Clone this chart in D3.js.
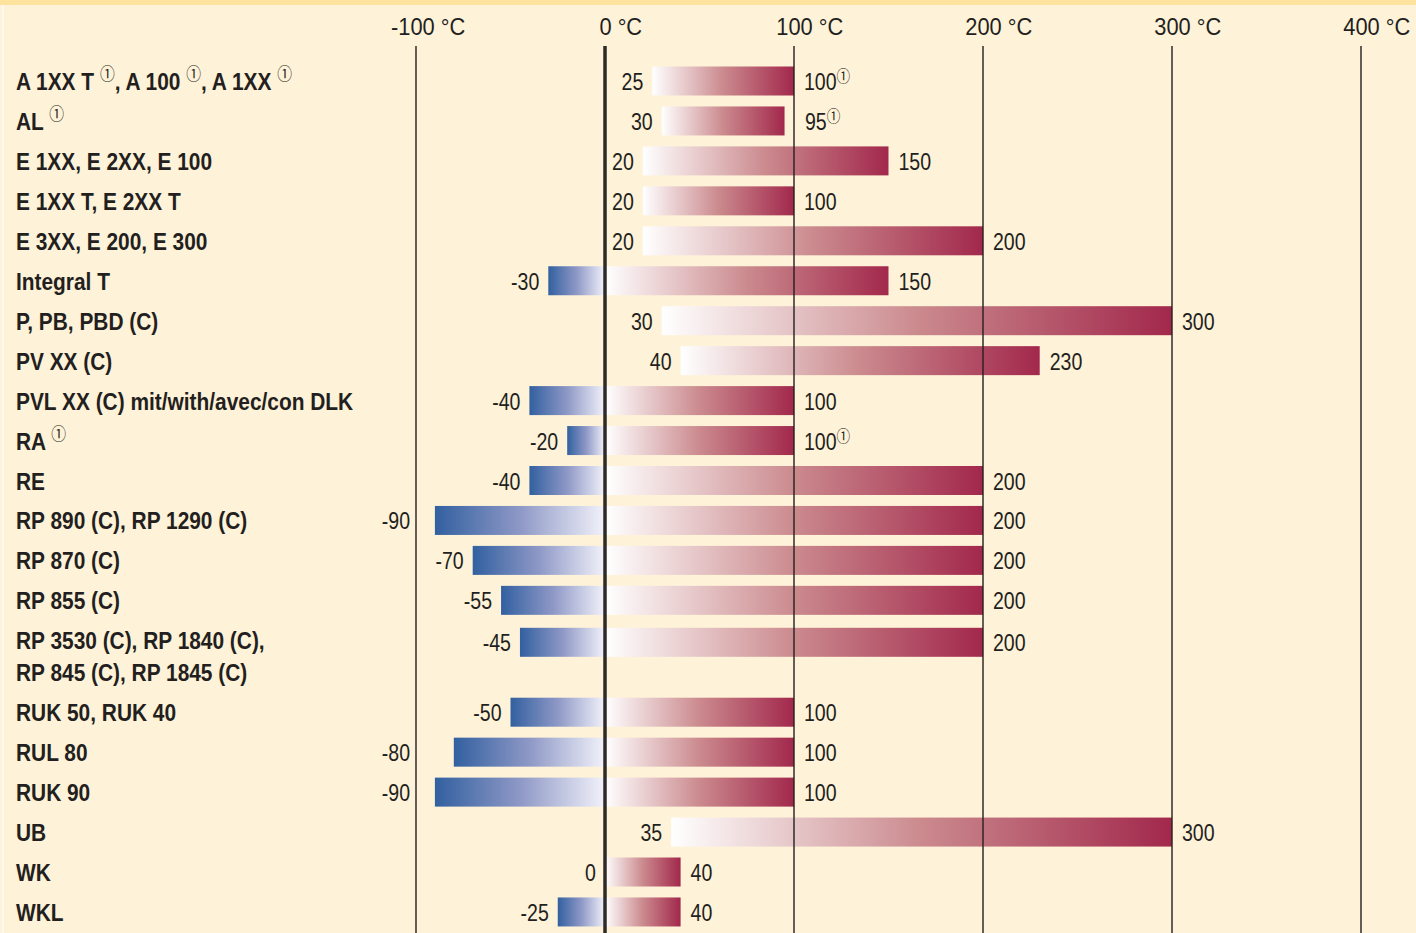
<!DOCTYPE html>
<html>
<head>
<meta charset="utf-8">
<script src="https://cdn.jsdelivr.net/npm/d3@7/dist/d3.min.js"></script>
<style>
  html, body { margin: 0; padding: 0; background: #fef2d8; }
  svg { display: block; }
  text { font-family: 'Liberation Sans', Arial, sans-serif; }
</style>
</head>
<body>
<svg id="chart" width="1416" height="933"></svg>
<script>
// ---------- data ----------
const categories = [
  "A 1XX T ①, A 100 ①, A 1XX ①",
  "AL ①",
  "E 1XX, E 2XX, E 100",
  "E 1XX T, E 2XX T",
  "E 3XX, E 200, E 300",
  "Integral T",
  "P, PB, PBD (C)",
  "PV XX (C)",
  "PVL XX (C) mit/with/avec/con DLK",
  "RA ①",
  "RE",
  "RP 890 (C), RP 1290 (C)",
  "RP 870 (C)",
  "RP 855 (C)",
  "RP 3530 (C), RP 1840 (C),\nRP 845 (C), RP 1845 (C)",
  "RUK 50, RUK 40",
  "RUL 80",
  "RUK 90",
  "UB",
  "WK",
  "WKL"
];
const minTemps = [25, 30, 20, 20, 20, -30, 30, 40, -40, -20, -40, -90, -70, -55, -45, -50, -80, -90, 35, 0, -25];
const maxTemps = [100, 95, 150, 100, 200, 150, 300, 230, 100, 100, 200, 200, 200, 200, 200, 100, 100, 100, 300, 40, 40];
const maxNotes = [true, true, false, false, false, false, false, false, false, true, false, false, false, false, false, false, false, false, false, false, false];
const tickValues = [-100, 0, 100, 200, 300, 400];
const unitLabel = " °C";

// ---------- layout ----------
const W = 1416, H = 933;
const svg = d3.select("#chart");
const x = d3.scaleLinear().domain([-100, 400]).range([416, 1361]);

const weights = categories.map(c => c.includes("\n") ? 1.8 : 1);
const starts = [];
weights.reduce((acc, w, i) => { starts[i] = acc; return acc + w; }, 0);
const totalUnits = d3.sum(weights);
const y = d3.scaleLinear().domain([0, totalUnits]).range([81, 81 + 39.95 * totalUnits]);
const barH = 29;
const NOTE_FONT = "'Noto Sans CJK JP', 'DejaVu Sans', sans-serif";

// condensed-looking text: horizontal scale about the anchor point
function place(t, px, py, sx) {
  t.attr("x", 0).attr("y", 0).attr("transform", `translate(${px},${py}) scale(${sx},1)`);
}

// background
svg.append("rect").attr("width", W).attr("height", H).attr("fill", "#fef2d8");
svg.append("rect").attr("width", W).attr("height", 5).attr("fill", "#fde39e");
svg.append("rect").attr("x", 2).attr("y", 5).attr("width", 2).attr("height", H).attr("fill", "#fff8ec");

const defs = svg.append("defs");
const gPos = defs.append("linearGradient").attr("id", "gPos");
[[0, "#ffffff"], [0.5, "#cb8a8e"], [1, "#a2284c"]].forEach(([o, c]) =>
  gPos.append("stop").attr("offset", o).attr("stop-color", c));
const gNeg = defs.append("linearGradient").attr("id", "gNeg");
[[0, "#3260a0"], [0.5, "#8e98c6"], [1, "#f2f2fa"]].forEach(([o, c]) =>
  gNeg.append("stop").attr("offset", o).attr("stop-color", c));

const rows = categories.map((c, i) => ({
  label: c, lines: c.split("\n"), min: minTemps[i], max: maxTemps[i], note: maxNotes[i],
  ly: y(starts[i]),
  cy: y(starts[i]) + (weights[i] > 1 ? 2 : 0)
}));

// bars
const bars = svg.append("g");
bars.selectAll("rect.neg").data(rows.filter(d => d.min < 0)).join("rect")
  .attr("class", "neg")
  .attr("x", d => x(d.min)).attr("y", d => d.cy - barH / 2)
  .attr("width", d => x(0) - x(d.min)).attr("height", barH)
  .attr("fill", "url(#gNeg)");
bars.selectAll("rect.pos").data(rows).join("rect")
  .attr("class", "pos")
  .attr("x", d => x(Math.max(0, d.min))).attr("y", d => d.cy - barH / 2)
  .attr("width", d => x(d.max) - x(Math.max(0, d.min))).attr("height", barH)
  .attr("fill", "url(#gPos)");

// axis labels (digits centred on tick, minus sign hangs left, unit appended)
const AX_SX = 0.91;
const axis = d3.axisTop(x).tickValues(tickValues).tickSize(0).tickFormat(d => d + unitLabel);
const ax = svg.append("g").attr("transform", "translate(0,35)").call(axis);
ax.select(".domain").remove();
ax.selectAll("text")
  .attr("font-family", "'Liberation Sans', Arial, sans-serif")
  .attr("font-size", 24).attr("fill", "#231f20")
  .attr("dy", 0).attr("text-anchor", "start")
  .each(function(d) {
    const t = d3.select(this);
    t.text(String(Math.abs(d)));
    const wDigits = this.getComputedTextLength();
    t.text(d < 0 ? "-" : "");
    const wSign = d < 0 ? this.getComputedTextLength() : 0;
    t.text(d + unitLabel);
    place(t, -(wDigits / 2 + wSign) * AX_SX, 0, AX_SX);
  });

// gridlines
svg.append("g").selectAll("line").data(tickValues).join("line")
  .attr("x1", d => x(d)).attr("x2", d => x(d))
  .attr("y1", 46).attr("y2", H)
  .attr("stroke", d => d === 0 ? "#2e2a28" : "#231f20")
  .attr("stroke-width", d => d === 0 ? 3.5 : 1.4);

// category labels
const CAT_SX = 0.87;
const labels = svg.append("g")
  .attr("font-size", 24).attr("font-weight", "bold").attr("fill", "#231f20");
rows.forEach(r => {
  r.lines.forEach((line, li) => {
    const t = labels.append("text");
    place(t, 16, r.ly + 9 + li * 32, CAT_SX);
    line.split(/(①)/).forEach(part => {
      if (part === "①") {
        t.append("tspan").attr("font-family", NOTE_FONT).attr("font-weight", "normal")
          .attr("font-size", 17).attr("baseline-shift", "10").text("①");
      } else if (part) {
        t.append("tspan").text(part);
      }
    });
  });
});

// value labels
const VAL_SX = 0.85;
const vals = svg.append("g").attr("font-size", 23).attr("fill", "#231f20");
rows.forEach(r => {
  const tMin = vals.append("text").attr("text-anchor", "end").text(r.min);
  const w = tMin.node().getComputedTextLength() * VAL_SX;
  let xe = x(r.min) - 9;
  if (xe - w < x(-100) + 2 && xe > x(-100)) xe = x(-100) - 6;
  place(tMin, xe, r.cy + 9, VAL_SX);

  let xs = x(r.max) + 10;
  tickValues.forEach(g => { if (xs > x(g) - 4 && xs < x(g) + 8) xs = x(g) + 11; });
  const tMax = vals.append("text");
  tMax.append("tspan").text(r.max);
  if (r.note) {
    tMax.append("tspan").attr("font-family", NOTE_FONT).attr("font-size", 16)
      .attr("baseline-shift", "8").text("①");
  }
  place(tMax, xs, r.cy + 9, VAL_SX);
});
</script>
</body>
</html>
